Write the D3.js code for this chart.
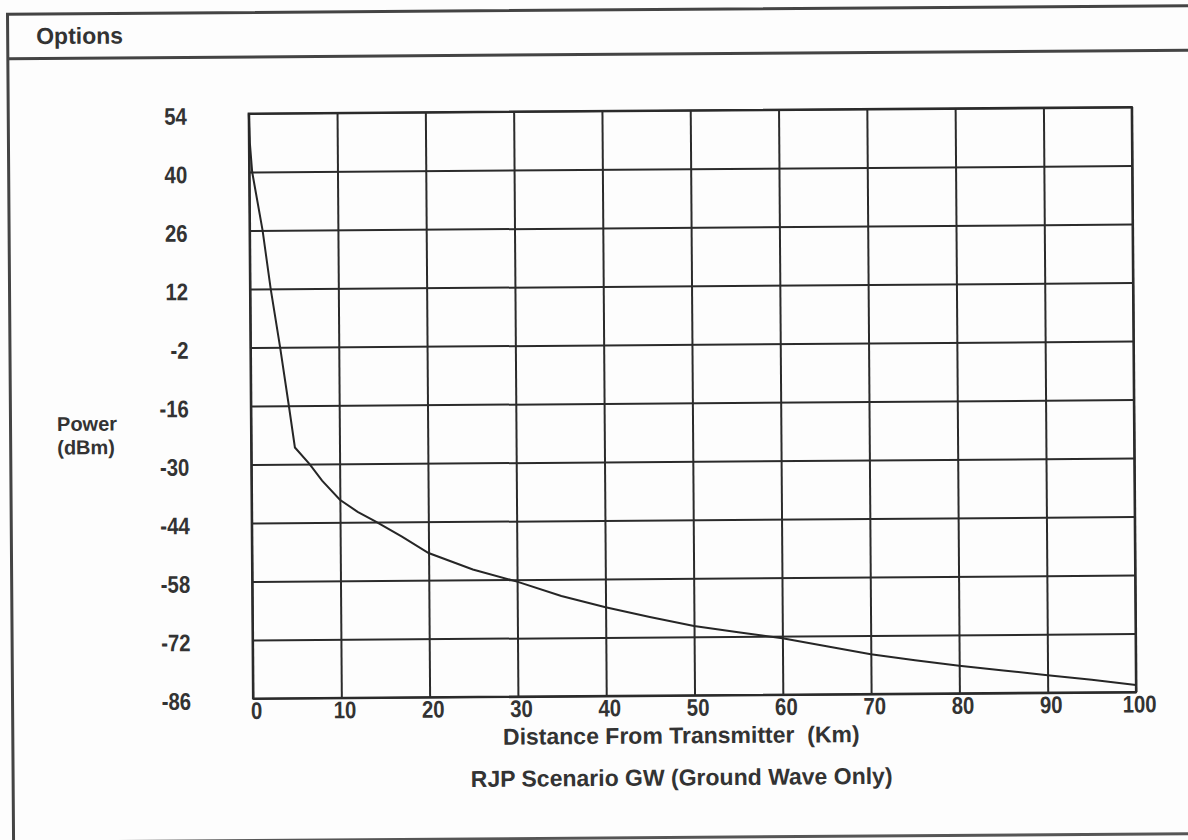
<!DOCTYPE html>
<html>
<head>
<meta charset="utf-8">
<script src="https://cdn.jsdelivr.net/npm/d3@7"></script>
<style>
  body { margin: 0; background: #fdfdfd; }
  svg { display: block; }
  .lbl { font-family: "Liberation Sans", Arial, sans-serif; font-weight: bold; fill: #333; }
  .num { font-family: "Liberation Sans", Arial, sans-serif; font-weight: bold; fill: #333; }
</style>
</head>
<body>
<svg id="chart" width="1188" height="840"></svg>
<script>
// Distance (km) vs received power (dBm)
var distKm = [0, 0.1, 0.34, 1.47, 2.34, 3.36, 4.3, 4.95, 6.6, 8, 10, 12, 14, 17, 20, 25, 30, 35, 40, 45, 50, 55, 60, 65, 70, 75, 80, 85, 90, 95, 100];
var powerDbm = [54, 47, 40, 26, 12, -2, -16, -26, -30, -34, -38.6, -41.5, -43.8, -47.5, -51.5, -55.5, -58.5, -62, -64.8, -67.2, -69.4, -71, -72.5, -74.5, -76.5, -78, -79.4, -80.6, -81.8, -83, -84.3];

var xTicks = [0, 10, 20, 30, 40, 50, 60, 70, 80, 90, 100];
var yTicks = [54, 40, 26, 12, -2, -16, -30, -44, -58, -72, -86];

var svg = d3.select('#chart');
// the scan is a little crooked, so tilt everything the same way
var g = svg.append('g').attr('transform', 'rotate(-0.42,594,420)');

// window frame + menu bar
g.append('path')
	.attr('d', 'M1200,10 H10.5 V850')
	.attr('fill', 'none').attr('stroke', '#444').attr('stroke-width', 3);
g.append('line').attr('x1', 10.5).attr('x2', 1200).attr('y1', 54.5).attr('y2', 54.5)
	.attr('stroke', '#444').attr('stroke-width', 3);
g.append('line').attr('x1', 10.5).attr('x2', 1200).attr('y1', 838).attr('y2', 838)
	.attr('stroke', '#555').attr('stroke-width', 3);
g.append('text').attr('class', 'lbl').attr('x', 39).attr('y', 40)
	.style('font-size', '23px').text('Options');

var pLeft = 251, pRight = 1134, pTop = 111, pBottom = 696;
var x = d3.scaleLinear().domain([0, 100]).range([pLeft, pRight]);
var y = d3.scaleLinear().domain([-86, 54]).range([pBottom, pTop]);

var squeeze = 0.85; // old condensed bitmap digits
// plain hyphen, not the unicode minus d3 puts in
var plain = function(d) { return String(d); };

// grid
var xAxis = g.append('g').attr('transform', 'translate(0,' + pBottom + ')')
	.call(d3.axisBottom(x).tickValues(xTicks).tickFormat(plain).tickSize(-(pBottom - pTop)).tickPadding(6));
var yAxis = g.append('g').attr('transform', 'translate(' + pLeft + ',0)')
	.call(d3.axisLeft(y).tickValues(yTicks).tickFormat(plain).tickSize(-(pRight - pLeft)).tickPadding(62));

[xAxis, yAxis].forEach(function(a) {
	a.attr('font-family', null).attr('font-size', null);
	a.select('.domain').remove();
	a.selectAll('line').attr('stroke', '#2b2b2b').attr('stroke-width', 2);
	a.selectAll('text').attr('class', 'num').style('font-size', '24px')
		.attr('transform', 'scale(' + squeeze + ',1)');
});
xAxis.selectAll('text').attr('x', 3 / squeeze).attr('dy', '0.6em');
yAxis.selectAll('text').attr('x', -62 / squeeze).attr('dy', '0.42em');

g.append('rect').attr('x', pLeft).attr('y', pTop)
	.attr('width', pRight - pLeft).attr('height', pBottom - pTop)
	.attr('fill', 'none').attr('stroke', '#2b2b2b').attr('stroke-width', 2.2);

// curve
var line = d3.line()
	.x(function(d, i) { return x(distKm[i]); })
	.y(function(d) { return y(d); });
g.append('path').datum(powerDbm)
	.attr('d', line)
	.attr('fill', 'none').attr('stroke', '#262626').attr('stroke-width', 2);

// labels
var yLab = g.append('text').attr('class', 'lbl').attr('y', 427)
	.style('font-size', '20px');
yLab.append('tspan').attr('x', 57).text('Power');
yLab.append('tspan').attr('x', 57).attr('dy', 23.5).text('(dBm)');

g.append('text').attr('class', 'lbl').attr('x', 679).attr('y', 744)
	.attr('text-anchor', 'middle')
	.style('font-size', '23px').style('white-space', 'pre')
	.text('Distance From Transmitter  (Km)');
g.append('text').attr('class', 'lbl').attr('x', 679).attr('y', 786)
	.attr('text-anchor', 'middle')
	.style('font-size', '23px')
	.text('RJP Scenario GW (Ground Wave Only)');
</script>
</body>
</html>
